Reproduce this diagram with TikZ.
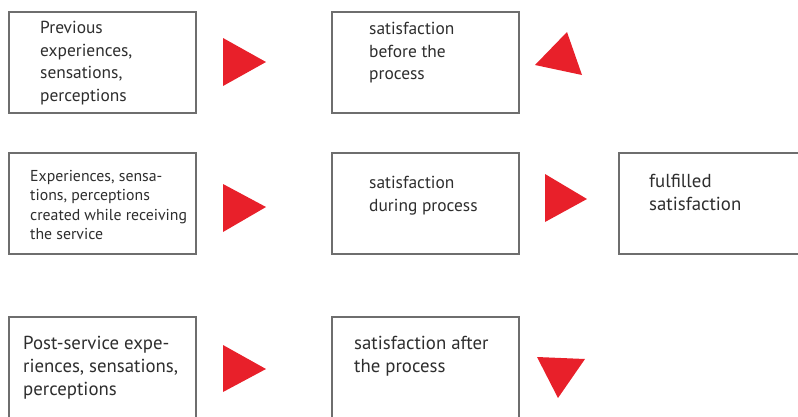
\documentclass[tikz,border=0pt]{standalone}
\usepackage{fontspec}
\setmainfont{PT Sans}
\begin{document}
\begin{tikzpicture}[x=1pt,y=-1pt,
  box/.style={draw=boxgray, line width=2pt, fill=white, anchor=north west,
    minimum width=187pt, minimum height=101pt, inner sep=0pt},
  label/.style={anchor=north west, align=left, inner sep=0pt, text=textgray,
    font=\fontsize{17.4}{22.5}\selectfont},
  small/.style={label, font=\fontsize{15.8}{19.5}\selectfont},
  big/.style={label, font=\fontsize{18.8}{23}\selectfont},
  pointer/.style={fill=arrowred, draw=none}]
\definecolor{boxgray}{HTML}{6E6E6E}
\definecolor{textgray}{HTML}{2E2E2E}
\definecolor{arrowred}{HTML}{E8202A}
\useasboundingbox (0,0) rectangle (798,416);

% row 1
\node[box] (prev) at (8,11) {};
\node[label] (prevtxt) at (40,21) {Previous\\experiences,\\sensations,\\perceptions};
\node[box] (before) at (331,11) {};
\node[label] (beforetxt) at (369,22) {satisfaction\\before the\\process};
\fill[pointer] (223,38) -- (266,62) -- (223,86) -- cycle;
\fill[pointer] (535,65) -- (567,32) -- (582,75) -- cycle;

% row 2
\node[box] (during) at (8,152) {};
\node[small] (duringtxt) at (30,170) {Experiences, sensa-\\tions, perceptions\\created while receiving\\the service};
\node[box] (duringsat) at (331,152) {};
\node[label] (duringsattxt) at (369,176) {satisfaction\\during process};
\node[box, minimum width=200pt] (fulfilled) at (618,152) {};
\node[big] (fulfilledtxt) at (649,174) {fulfilled\\satisfaction};
\fill[pointer] (223,184) -- (266,207) -- (223,232) -- cycle;
\fill[pointer] (545,174) -- (587,199) -- (545,222) -- cycle;

% row 3
\node[box, minimum height=120pt] (post) at (8,316) {};
\node[big] (posttxt) at (23,336) {Post-service expe-\\riences, sensations,\\perceptions};
\node[box, minimum height=120pt] (after) at (331,316) {};
\node[big] (aftertxt) at (354,336) {satisfaction after\\the process};
\fill[pointer] (223,345) -- (266,369) -- (223,392) -- cycle;
\fill[pointer] (537,357) -- (585,359) -- (558,398) -- cycle;
\end{tikzpicture}
\end{document}
